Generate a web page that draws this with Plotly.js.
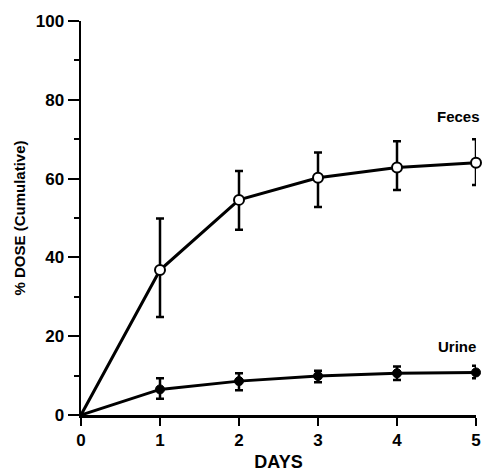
<!DOCTYPE html>
<html>
<head>
<script src="https://cdn.plot.ly/plotly-3.0.1.min.js"></script>
<style>html,body{margin:0;padding:0;background:#fff;}#chart{width:483px;height:472px;}</style>
</head>
<body>
<div id="chart"></div>
<script>
const days = [0, 1, 2, 3, 4, 5];
const fecesMean = [0, 36.8, 54.6, 60.2, 62.8, 64.0];
const fecesHigh = [0, 49.9, 61.9, 66.6, 69.5, 70.0];
const fecesLow = [0, 24.9, 47.0, 52.8, 57.1, 58.4];
const urineMean = [0, 6.5, 8.6, 9.9, 10.6, 10.8];
const urineHigh = [0, 9.3, 10.6, 11.2, 12.3, 12.5];
const urineLow = [0, 4.1, 6.3, 8.3, 8.9, 9.3];
const seriesLabels = ["Feces", "Urine"];
const xTicks = [0, 1, 2, 3, 4, 5];
const yTicks = [0, 20, 40, 60, 80, 100];

const plus = (hi, m) => hi.map((v, i) => v - m[i]);
const minus = (lo, m) => m.map((v, i) => v - lo[i]);

const fam = "Liberation Sans, Arial, sans-serif";
const font = {family: fam, color: "#000", size: 15, weight: 700};

const traces = [
  {
    x: days, y: fecesMean, type: "scatter", mode: "lines+markers", cliponaxis: false,
    line: {color: "#000", width: 3},
    marker: {symbol: "circle", size: days.map(d => d === 0 ? 0 : 10), color: "#ffffff", opacity: 1, line: {color: "#000", width: 2}},
    error_y: {type: "data", symmetric: false, array: plus(fecesHigh, fecesMean), arrayminus: minus(fecesLow, fecesMean), color: "#000", thickness: 2.5, width: 4},
    showlegend: false
  },
  {
    x: days, y: urineMean, type: "scatter", mode: "lines+markers", cliponaxis: false,
    line: {color: "#000", width: 3},
    marker: {size: days.map(d => d === 0 ? 0 : 9), color: "#000", opacity: 1, line: {color: "#000", width: 1}},
    error_y: {type: "data", symmetric: false, array: plus(urineHigh, urineMean), arrayminus: minus(urineLow, urineMean), color: "#000", thickness: 2.5, width: 4},
    showlegend: false
  }
];

const layout = {
  width: 483, height: 472,
  margin: {l: 81, r: 7, t: 21, b: 57},
  paper_bgcolor: "#fff", plot_bgcolor: "#fff",
  font: font,
  xaxis: {
    range: [0, 5], tickvals: xTicks, ticktext: xTicks.map(String),
    showline: true, linecolor: "#000", linewidth: 2.5, mirror: false,
    ticks: "outside", ticklen: 8, tickwidth: 2, tickcolor: "#000",
    showgrid: false, zeroline: false,
    tickfont: {family: fam, size: 17, color: "#000", weight: 700},
    title: {text: "DAYS", font: {family: fam, size: 18, color: "#000", weight: 700}, standoff: 8}
  },
  yaxis: {
    range: [0, 100], tickvals: yTicks, ticktext: yTicks.map(String),
    showline: true, linecolor: "#000", linewidth: 2.5,
    ticks: "outside", ticklen: 11, tickwidth: 2, tickcolor: "#000",
    minor: {dtick: 10, tick0: 0, ticks: "outside", ticklen: 5, tickwidth: 2, tickcolor: "#000", showgrid: false},
    showgrid: false, zeroline: false,
    tickfont: {family: fam, size: 17, color: "#000", weight: 700},
    title: {text: "% DOSE (Cumulative)", font: {family: fam, size: 15, color: "#000", weight: 700}, standoff: 7}
  },
  annotations: [
    {x: 5, y: fecesHigh[5], xref: "x", yref: "y", text: seriesLabels[0], showarrow: false, xanchor: "right", yanchor: "bottom", xshift: 6, yshift: 12, font: {family: fam, size: 15, color: "#000", weight: 700}},
    {x: 5, y: urineHigh[5], xref: "x", yref: "y", text: seriesLabels[1], showarrow: false, xanchor: "right", yanchor: "bottom", xshift: 2, yshift: 9, font: {family: fam, size: 15, color: "#000", weight: 700}}
  ]
};

Plotly.newPlot("chart", traces, layout, {displayModeBar: false, staticPlot: true});
</script>
</body>
</html>
